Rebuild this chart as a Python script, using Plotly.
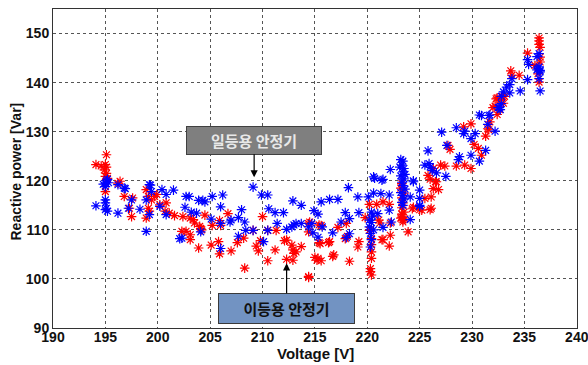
import plotly.graph_objects as go

# Red series (이등용 안정기): voltage [V], reactive power [Var]
red_v = [194.1,194.6,195.1,195.0,195.1,194.9,195.1,195.0,195.2,195.0,
         196.2,196.4,196.8,197.6,197.3,197.5,198.9,199.1,199.4,199.7,199.1,199.2,198.9,199.9,200.2,200.8,200.7,201.1,201.6,202.4,203.1,203.4,203.5,204.0,204.2,202.3,202.7,203.1,203.1,203.9,
         204.5,204.1,205.1,205.2,205.9,206.0,206.7,205.8,205.9,207.0,207.6,208.2,208.3,209.4,209.6,209.8,210.0,209.1,210.5,211.3,210.5,211.2,212.1,212.3,212.8,212.9,213.0,212.3,212.9,213.7,214.4,214.5,214.4,
         215.0,215.2,215.6,215.4,216.4,216.7,218.3,217.9,218.1,219.2,219.1,217.2,218.0,215.6,214.4,213.2,
         215.5,216.3,216.8,215.3,214.4,215.4,
         220.2,220.4,220.4,220.4,220.4,220.3,220.4,220.3,220.2,220.9,221.5,222.1,221.1,221.2,222.2,221.4,222.1,222.2,219.8,221.5,
         223.9,223.3,223.4,223.4,223.3,223.5,223.2,223.6,223.3,223.4,223.3,223.5,223.3,223.2,
         224.3,225.0,225.5,226.1,226.0,226.6,226.3,224.4,225.2,226.1,226.8,226.5,226.0,225.8,226.3,227.0,227.4,228.5,229.3,229.9,227.9,227.7,
         229.2,229.9,230.2,230.6,230.9,231.3,231.6,231.5,231.7,232.4,232.6,232.2,232.4,233.1,233.0,232.3,232.7,232.9,232.0,233.7,233.8,234.5,
         236.4,236.4,236.4,236.5,235.3,236.5,236.5,236.0,236.3,236.4]
red_q = [123.3,123.0,125.3,123.3,122.8,122.2,121.5,120.9,120.5,117.8,
         119.5,119.9,116.8,116.5,114.4,112.7,118.2,116.8,116.1,116.8,114.4,113.8,112.4,117.2,115.1,115.5,113.8,113.4,112.9,112.7,112.4,112.1,111.4,110.7,110.0,109.7,109.7,109.0,108.0,106.3,
         113.0,110.3,106.9,110.9,111.9,110.9,113.3,107.6,105.1,105.7,107.4,108.3,102.2,106.7,105.7,107.8,112.7,109.9,109.9,109.9,103.7,105.9,107.8,107.9,106.9,105.9,105.2,104.0,103.8,106.6,111.3,111.6,100.5,
         104.4,103.8,103.7,107.4,107.6,104.6,103.6,108.2,108.7,107.6,106.5,110.5,111.3,110.9,109.6,105.5,
         107.2,107.4,104.9,104.2,100.3,111.0,
         109.9,108.2,107.0,105.5,104.2,102.1,100.8,101.5,115.2,115.2,115.7,115.2,112.0,111.4,111.4,108.0,106.7,108.9,112.5,108.0,
         109.6,112.6,112.0,111.6,113.2,113.6,112.4,112.2,114.5,115.5,116.5,117.5,119.4,118.5,
         114.3,114.1,116.4,116.7,114.1,119.8,118.4,114.6,114.0,114.4,118.2,119.8,120.3,121.1,122.5,123.2,123.0,123.0,123.2,122.5,126.4,127.2,
         131.0,131.6,127.4,126.6,125.2,129.1,130.4,130.6,132.0,133.5,134.5,135.2,136.9,137.2,135.8,136.7,136.4,137.2,134.9,142.4,141.5,141.5,
         149.1,148.5,147.8,147.2,146.0,145.2,144.2,143.5,141.8,140.1]

# Blue series (일등용 안정기)
blue_v = [194.1,195.0,195.1,194.8,195.3,195.0,195.2,195.0,195.0,195.1,195.0,195.2,196.2,196.8,196.2,196.9,197.5,198.3,197.2,199.2,199.3,199.4,198.9,199.2,198.9,200.4,200.8,201.5,200.2,200.8,202.7,203.9,204.3,202.6,203.2,203.7,202.3,
          203.0,204.5,205.2,206.2,206.0,205.1,206.0,206.9,207.0,207.7,208.0,208.3,207.7,209.1,209.9,210.5,210.1,209.1,208.4,210.5,210.6,211.2,212.0,211.4,212.3,212.8,213.2,212.9,213.7,202.1,204.1,206.0,213.0,213.7,214.4,
          214.9,215.3,215.6,216.4,217.2,218.2,219.1,220.1,220.6,221.3,222.1,219.2,217.9,218.3,217.5,216.7,215.7,214.8,214.7,218.3,218.0,220.4,221.0,222.1,220.2,220.2,220.3,220.3,220.4,220.5,220.6,220.4,220.7,221.5,222.2,220.6,221.4,221.5,222.3,215.3,
          223.2,223.4,223.3,223.5,223.4,223.2,223.5,223.3,223.4,223.6,223.2,223.4,223.5,223.3,223.4,223.6,223.1,
          224.4,225.0,225.0,225.5,224.1,225.0,224.4,224.1,225.0,
          227.1,225.8,225.9,226.0,226.2,226.6,227.5,227.6,228.5,229.2,229.3,229.9,230.3,228.8,228.7,229.9,230.7,231.3,230.9,231.6,231.5,232.2,232.6,232.8,233.6,
          236.4,236.2,236.4,236.3,236.5,236.2,236.5,236.4,235.3,235.4,235.3,236.5,234.6,233.8,233.6,233.3,233.0,232.8,232.5,232.7,230.7,231.7]
blue_q = [114.9,119.5,120.0,119.3,119.6,118.8,120.3,116.1,115.5,114.4,114.1,113.8,113.4,118.5,119.2,118.4,116.1,114.2,114.4,119.2,119.1,117.8,116.1,113.1,109.7,118.2,117.2,118.1,114.8,113.1,116.8,116.0,116.0,114.6,113.6,113.4,108.3,
          116.8,115.7,116.8,117.1,114.7,112.2,111.3,111.6,112.0,112.5,114.1,111.6,108.7,118.7,117.1,117.1,107.6,109.9,109.9,109.9,114.3,113.5,113.5,111.3,110.1,110.6,111.3,115.9,115.0,108.2,109.6,106.2,111.0,111.3,110.6,
          113.9,113.2,115.7,116.2,116.2,118.6,116.7,116.7,117.5,117.4,117.1,113.5,113.5,112.3,111.6,109.4,110.6,109.4,111.3,109.2,108.4,113.6,113.3,114.0,112.0,110.6,109.3,106.5,111.5,112.8,110.0,108.0,120.5,120.3,122.3,120.8,120.1,110.5,111.6,108.5,
          124.3,124.0,123.2,122.5,121.8,121.0,120.4,119.7,119.0,118.3,117.6,117.0,116.3,115.6,115.0,121.3,122.8,
          120.0,118.1,114.8,123.2,112.1,116.4,119.8,116.7,115.0,
          129.9,126.1,123.5,122.8,122.1,121.6,120.9,127.2,130.8,129.6,130.1,128.6,129.6,124.9,124.3,125.2,124.0,126.2,133.3,133.3,131.5,130.1,134.9,135.7,137.9,
          145.9,145.3,143.2,142.9,142.5,142.6,142.2,140.8,144.7,143.7,140.6,138.3,138.3,140.8,139.6,139.1,138.1,137.2,134.9,134.5,133.4,133.4]

x_ticks = [190,195,200,205,210,215,220,225,230,235,240]
y_ticks = [90,100,110,120,130,140,150]
x_title = "Voltage [V]"
y_title = "Reactive power [Var]"

label_blue = "일등용 안정기"
label_red = "이등용 안정기"
arrow_blue = (209.2, 120.7)
arrow_red = (212.3, 103.2)

fig = go.Figure()
fig.add_trace(go.Scatter(x=red_v, y=red_q, mode="markers",
                         marker=dict(symbol="asterisk-open", size=8, color="#ff0000",
                                     line=dict(color="rgba(255,0,0,0.9)", width=1.2)),
                         showlegend=False))
fig.add_trace(go.Scatter(x=blue_v, y=blue_q, mode="markers",
                         marker=dict(symbol="asterisk-open", size=8, color="#0000ff",
                                     line=dict(color="rgba(0,0,255,0.9)", width=1.2)),
                         showlegend=False))

font_b = "Liberation Sans, Arial, sans-serif"
axis_common = dict(showline=True, mirror=True, linecolor="#333333", linewidth=1,
                   showgrid=True, gridcolor="#555555", griddash="dot", gridwidth=1,
                   zeroline=False, ticks="", automargin=False, ticklabeloverflow="allow",
                   tickfont=dict(family=font_b, size=14, color="#111111"))

fig.update_layout(
    width=588, height=365,
    margin=dict(l=53, r=11, t=9, b=37, autoexpand=False),
    paper_bgcolor="white", plot_bgcolor="white",
    xaxis=dict(range=[190, 240.02], tickvals=x_ticks, ticklabelstandoff=-4,
               ticktext=["<b>%d</b>" % t for t in x_ticks], **axis_common),
    yaxis=dict(range=[90, 155], tickvals=y_ticks,
               ticktext=["<b>%d</b>" % t for t in y_ticks], **axis_common),
    annotations=[
        dict(x=0.5, y=-0.08, xref="paper", yref="paper", xanchor="center", yanchor="middle",
             text="<b>%s</b>" % x_title, showarrow=False,
             font=dict(family=font_b, size=15, color="#111111")),
        dict(x=-0.071, y=0.49, xref="paper", yref="paper", xanchor="center", yanchor="middle",
             text="<b>%s</b>" % y_title, showarrow=False, textangle=-90,
             font=dict(family=font_b, size=14, color="#111111")),
        dict(x=arrow_blue[0], y=arrow_blue[1], xref="x", yref="y", text="<b>%s</b>" % label_blue,
             showarrow=True, arrowhead=2, arrowsize=1.2, arrowwidth=1.2, arrowcolor="#000000",
             ax=0, ay=-37, bgcolor="#7f7f7f", bordercolor="#404040", borderwidth=1,
             width=132, height=25, borderpad=1,
             font=dict(family="Noto Sans CJK KR", size=15, color="#e8e8e8")),
        dict(x=arrow_red[0], y=arrow_red[1], xref="x", yref="y", text="<b>%s</b>" % label_red,
             showarrow=True, arrowhead=2, arrowsize=1.2, arrowwidth=1.2, arrowcolor="#000000",
             ax=0, ay=45, bgcolor="#7293c2", bordercolor="#3a3a3a", borderwidth=1,
             width=133, height=27, borderpad=1,
             font=dict(family="Noto Sans CJK KR", size=15, color="#111111")),
    ],
)

fig.write_html("out.html", config={"displayModeBar": False},
               post_script="document.body.style.margin='0';document.body.style.overflow='hidden';")
